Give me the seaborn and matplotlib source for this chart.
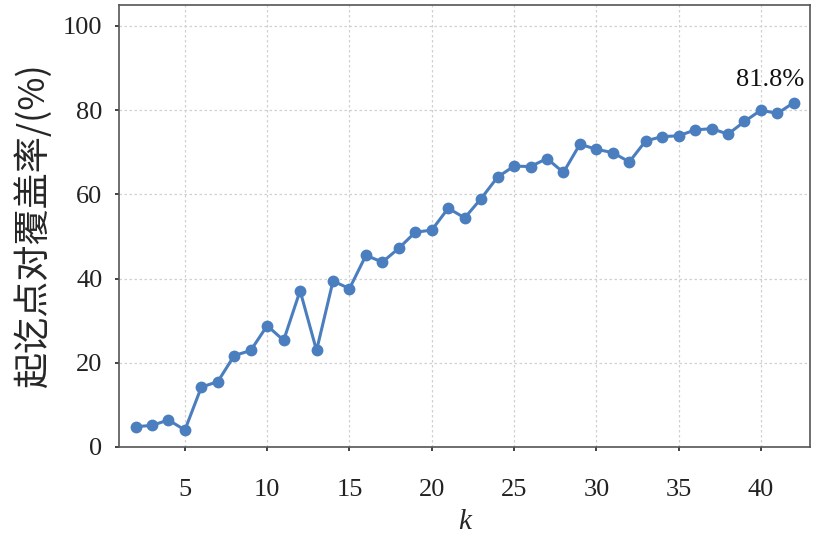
import pandas as pd
import matplotlib
matplotlib.use("Agg")
import matplotlib.pyplot as plt
import seaborn as sns

# data
k_values = list(range(2, 43))
coverage = [4.8, 5.1, 6.4, 4.0, 14.2, 15.5, 21.7, 22.9, 28.8, 25.3,
            37.1, 22.9, 39.4, 37.6, 45.5, 43.9, 47.2, 51.0, 51.5, 56.7,
            54.4, 59.0, 64.1, 66.7, 66.6, 68.5, 65.2, 71.9, 70.7, 69.9,
            67.7, 72.7, 73.7, 73.9, 75.3, 75.6, 74.3, 77.3, 80.0, 79.2, 81.8]
x_ticks = [5, 10, 15, 20, 25, 30, 35, 40]
y_ticks = [0, 20, 40, 60, 80, 100]
last_label = "81.8%"

df = pd.DataFrame({"k": k_values, "rate": coverage})

sns.set_style("ticks")
plt.rcParams['font.family'] = ['Liberation Serif', 'Noto Sans CJK SC', 'DejaVu Sans']

fig = plt.figure(figsize=(8.21, 5.43), dpi=100)
ax = fig.add_axes([0.145, 0.177, 0.842, 0.814])

line_color = "#4a7ebf"
sns.lineplot(data=df, x="k", y="rate", ax=ax, color=line_color, linewidth=2.2,
             marker="o", markersize=8.5, markeredgewidth=0, markerfacecolor=line_color)

ax.set_xlim(1, 43)
ax.set_ylim(0, 105)
ax.set_xticks(x_ticks)
ax.set_yticks(y_ticks)
ax.grid(True, linestyle=(0, (2, 2)), color="#d0d0d0", linewidth=0.9)
ax.set_axisbelow(True)

for s in ax.spines.values():
    s.set_color("#555555")
    s.set_linewidth(1.2)

ax.tick_params(axis="y", direction="out", length=3, width=1.2, pad=9,
               labelsize=19, colors="#222222")
ax.tick_params(axis="x", direction="out", length=3, width=1.2, pad=20,
               labelsize=19, colors="#222222")

ax.set_xlabel("k", fontsize=21, fontstyle="italic", labelpad=6)
ax.set_ylabel("起讫点对覆盖率/(%)", fontsize=26, labelpad=8,
              family=['Noto Sans CJK SC', 'Liberation Serif'])

ax.annotate(last_label, xy=(k_values[-1], coverage[-1]), xytext=(-17, 8),
            textcoords="offset points", ha="center", va="bottom", fontsize=19,
            color="#111111")

fig.savefig("out.png", dpi=100)
